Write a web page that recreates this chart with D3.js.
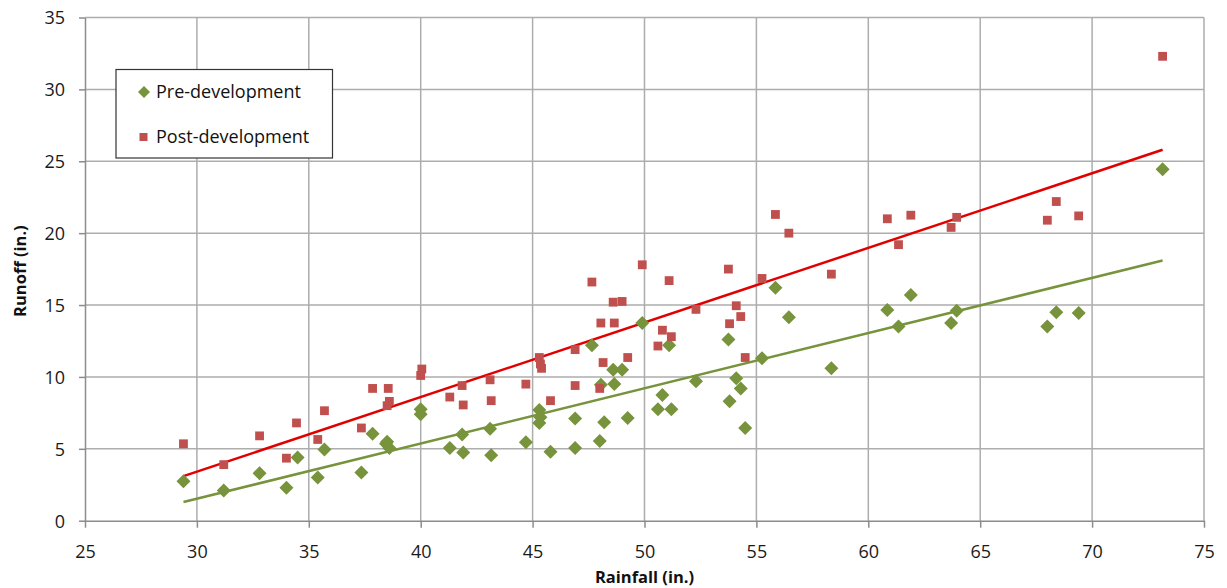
<!DOCTYPE html>
<html>
<head>
<meta charset="utf-8">
<script src="https://cdn.jsdelivr.net/npm/d3@7"></script>
<style>
  html, body { margin: 0; padding: 0; background: #fff; }
  svg { display: block; font-family: "Open Sans", "Liberation Sans", sans-serif; }
</style>
</head>
<body>
<svg id="chart" width="1227" height="588"></svg>
<script>
// ---- data ----
const preRain = [29.4, 31.2, 32.8, 34.0, 34.5, 35.4, 35.7, 37.35, 37.85, 38.45, 38.5, 38.6,
  40.0, 40.0, 41.3, 41.85, 41.9, 43.1, 43.15, 44.7, 45.3, 45.35, 45.3, 45.8, 46.9, 46.9,
  47.65, 48.0, 48.05, 48.2, 48.6, 48.65, 49.0, 49.25, 49.9, 50.6, 50.8, 51.1, 51.2, 52.3,
  53.75, 53.8, 54.1, 54.3, 54.5, 55.25, 55.85, 56.45, 58.35, 60.85, 61.35, 61.9, 63.7,
  63.95, 68.0, 68.4, 69.4, 73.15];
const preRunoff = [2.75, 2.1, 3.3, 2.3, 4.4, 3.0, 4.95, 3.35, 6.05, 5.35, 5.5, 5.05,
  7.75, 7.4, 5.05, 6.0, 4.75, 6.4, 4.55, 5.45, 7.7, 7.2, 6.8, 4.8, 7.1, 5.05,
  12.2, 5.55, 9.45, 6.85, 10.5, 9.5, 10.5, 7.15, 13.75, 7.75, 8.75, 12.2, 7.75, 9.7,
  12.6, 8.3, 9.9, 9.2, 6.45, 11.3, 16.2, 14.15, 10.6, 14.65, 13.5, 15.7, 13.75,
  14.6, 13.5, 14.5, 14.45, 24.45];

const postRain = [29.4, 31.2, 32.8, 34.0, 34.45, 35.4, 35.7, 37.35, 37.85, 38.5, 38.55, 38.6,
  40.0, 40.05, 41.3, 41.85, 41.9, 43.1, 43.15, 44.7, 45.3, 45.35, 45.4, 45.8, 46.9, 46.9,
  47.65, 48.0, 48.05, 48.15, 48.6, 48.65, 49.0, 49.25, 49.9, 50.6, 50.8, 51.1, 51.2, 52.3,
  53.75, 53.8, 54.1, 54.3, 54.5, 55.25, 55.85, 56.45, 58.35, 60.85, 61.35, 61.9, 63.7,
  63.95, 68.0, 68.4, 69.4, 73.15];
const postRunoff = [5.35, 3.9, 5.9, 4.35, 6.8, 5.65, 7.65, 6.45, 9.2, 8.0, 9.2, 8.3,
  10.1, 10.55, 8.6, 9.4, 8.05, 9.8, 8.35, 9.5, 11.35, 10.9, 10.6, 8.35, 11.9, 9.4,
  16.6, 9.2, 13.75, 11.0, 15.2, 13.75, 15.25, 11.35, 17.8, 12.15, 13.25, 16.7, 12.8, 14.7,
  17.5, 13.7, 14.95, 14.2, 11.35, 16.85, 21.3, 20.0, 17.15, 21.0, 19.2, 21.25, 20.4,
  21.1, 20.9, 22.2, 21.2, 32.3];

// linear trend lines (rainfall range endpoints, runoff)
const trendRain = [29.4, 73.15];
const preTrend = [1.3, 18.1];
const postTrend = [3.1, 25.8];

const xTicks = [25, 30, 35, 40, 45, 50, 55, 60, 65, 70, 75];
const yTicks = [0, 5, 10, 15, 20, 25, 30, 35];
const seriesNames = ["Pre-development", "Post-development"];

// ---- layout ----
const svg = d3.select("#chart");
const mLeft = 85, mRight = 1204, mTop = 17.5, mBottom = 520.7;
const x = d3.scaleLinear().domain([25, 75]).range([mLeft, mRight]);
const y = d3.scaleLinear().domain([0, 35]).range([mBottom, mTop]);

const gridColor = "#adadad";
const green = "#77933C", red = "#C0504D";

// gridlines
svg.append("g").selectAll("line").data(xTicks.slice(1)).join("line")
  .attr("x1", d => x(d)).attr("x2", d => x(d)).attr("y1", mTop).attr("y2", mBottom)
  .attr("stroke", gridColor).attr("stroke-width", 1.5);
svg.append("g").selectAll("line").data(yTicks.slice(1)).join("line")
  .attr("x1", mLeft).attr("x2", mRight).attr("y1", d => y(d)).attr("y2", d => y(d))
  .attr("stroke", gridColor).attr("stroke-width", 1.5);

// axes
const xAxis = d3.axisBottom(x).tickValues(xTicks).tickSize(7).tickSizeOuter(0).tickPadding(18);
const yAxis = d3.axisLeft(y).tickValues(yTicks).tickSize(6).tickSizeOuter(0).tickPadding(14);
const gx = svg.append("g").attr("transform", `translate(0,${mBottom})`).call(xAxis);
const gy = svg.append("g").attr("transform", `translate(${mLeft},0)`).call(yAxis);
[gx, gy].forEach(g => {
  g.select(".domain").attr("stroke", "#8c8c8c").attr("stroke-width", 1.5);
  g.selectAll(".tick line").attr("stroke", "#8c8c8c").attr("stroke-width", 1.5);
  g.selectAll(".tick text").attr("fill", "#1a1a1a").attr("font-size", 18)
    .attr("font-family", "'Open Sans', sans-serif");
});
gy.selectAll(".tick text").attr("dy", "0.35em");

// axis titles
svg.append("text").attr("x", (mLeft + mRight) / 2).attr("y", 583)
  .attr("text-anchor", "middle").attr("font-weight", "bold").attr("font-size", 16.5)
  .attr("fill", "#111").text("Rainfall (in.)");
svg.append("text").attr("transform", `translate(26,${(mTop + mBottom) / 2 + 2}) rotate(-90)`)
  .attr("text-anchor", "middle").attr("font-weight", "bold").attr("font-size", 16.5)
  .attr("fill", "#111").text("Runoff (in.)");

// trend lines
const line = d3.line().x(d => x(d[0])).y(d => y(d[1]));
svg.append("path").datum(trendRain.map((r, i) => [r, preTrend[i]]))
  .attr("d", line).attr("stroke", green).attr("stroke-width", 2.5).attr("fill", "none");
svg.append("path").datum(trendRain.map((r, i) => [r, postTrend[i]]))
  .attr("d", line).attr("stroke", "#E00000").attr("stroke-width", 2.5).attr("fill", "none");

// markers
const diamond = s => `M0,${-s}L${s},0L0,${s}L${-s},0Z`;
svg.append("g").selectAll("path").data(preRain.map((r, i) => [r, preRunoff[i]])).join("path")
  .attr("transform", d => `translate(${x(d[0])},${y(d[1])})`)
  .attr("d", diamond(7)).attr("fill", green);
svg.append("g").selectAll("rect").data(postRain.map((r, i) => [r, postRunoff[i]])).join("rect")
  .attr("x", d => x(d[0]) - 4.4).attr("y", d => y(d[1]) - 4.4)
  .attr("width", 8.8).attr("height", 8.8).attr("fill", red);

// legend
const lg = svg.append("g");
lg.append("rect").attr("x", 116).attr("y", 69.5).attr("width", 216.5).attr("height", 88.5)
  .attr("fill", "#fff").attr("stroke", "#333").attr("stroke-width", 1.2);
lg.append("path").attr("transform", "translate(144,92)").attr("d", diamond(6)).attr("fill", green);
lg.append("rect").attr("x", 139.5).attr("y", 133).attr("width", 8).attr("height", 8).attr("fill", red);
lg.append("text").attr("x", 156).attr("y", 92).attr("dy", "0.35em").attr("font-size", 18)
  .attr("fill", "#111").text(seriesNames[0]);
lg.append("text").attr("x", 156).attr("y", 137).attr("dy", "0.35em").attr("font-size", 18)
  .attr("fill", "#111").text(seriesNames[1]);
</script>
</body>
</html>
